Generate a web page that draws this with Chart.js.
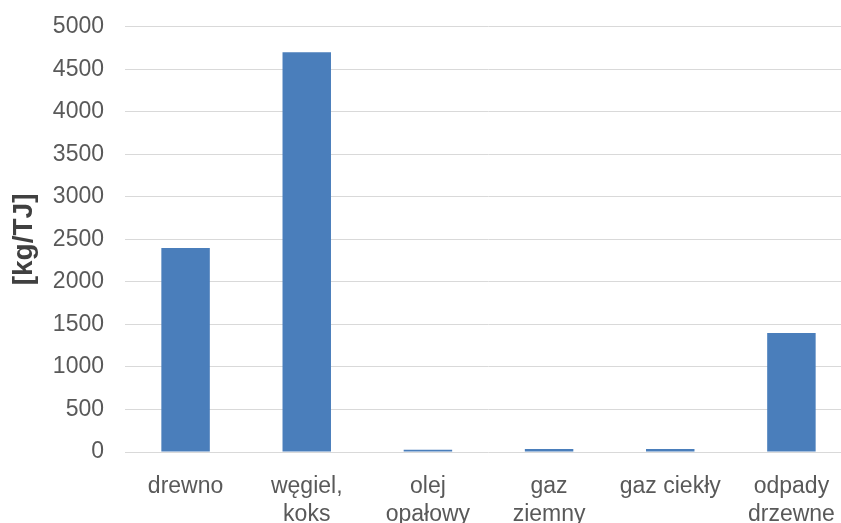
<!DOCTYPE html>
<html>
<head>
<meta charset="utf-8">
<script src="https://cdn.jsdelivr.net/npm/chart.js@4.4.1/dist/chart.umd.min.js"></script>
<style>
html,body{margin:0;padding:0;background:#fff;overflow:hidden;}
#wrap{width:841px;height:523px;position:relative;overflow:hidden;}
#c{position:absolute;left:0;top:-8px;}
</style>
</head>
<body>
<div id="wrap"><canvas id="c" width="852" height="531"></canvas></div>
<script>
const categories = [["drewno"], ["węgiel,", "koks"], ["olej", "opałowy"], ["gaz", "ziemny"], ["gaz ciekły"], ["odpady", "drzewne"]];
const values = [2400, 4700, 25, 35, 35, 1400];
const yTicks = [0, 500, 1000, 1500, 2000, 2500, 3000, 3500, 4000, 4500, 5000];
const yTitle = "[kg/TJ]";

new Chart(document.getElementById('c'), {
  type: 'bar',
  data: {
    labels: categories,
    datasets: [{
      data: values,
      backgroundColor: '#4a7ebb',
      borderWidth: 0,
      categoryPercentage: 1.0,
      barPercentage: 0.4
    }]
  },
  options: {
    responsive: false,
    animation: false,
    devicePixelRatio: 1,
    layout: { padding: { top: 17, right: 0, bottom: 0, left: 0 } },
    plugins: { legend: { display: false }, tooltip: { enabled: false } },
    scales: {
      x: {
        grid: { display: false },
        border: { display: false },
        ticks: {
          color: '#595959',
          font: { family: 'Liberation Sans', size: 23 },
          padding: 13,
          maxRotation: 0,
          autoSkip: false
        },
        afterFit: (s) => { s.height = 71; }
      },
      y: {
        min: 0,
        max: 5000,
        afterBuildTicks: (s) => { s.ticks = yTicks.map(v => ({ value: v })); },
        grid: { color: '#d9d9d9', lineWidth: 1, drawTicks: false },
        border: { display: false },
        ticks: {
          color: '#595959',
          font: { family: 'Liberation Sans', size: 23 },
          padding: 21,
          callback: (v) => String(v)
        },
        title: {
          display: true,
          text: yTitle,
          color: '#404040',
          font: { family: 'Liberation Sans', size: 28, weight: 'bold' },
          padding: { top: 7, bottom: 0 }
        },
        afterFit: (s) => { s.width = 125; }
      }
    }
  }
});
</script>
</body>
</html>
